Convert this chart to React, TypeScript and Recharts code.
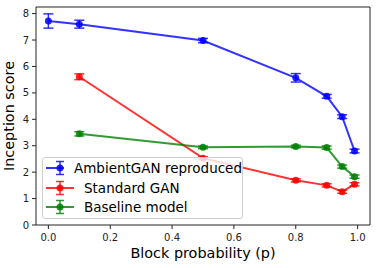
import React from 'react';
import { LineChart, Line, XAxis, YAxis, ErrorBar, ReferenceLine } from 'recharts';

const probAmbient = [0, 0.1, 0.5, 0.8, 0.9, 0.95, 0.99];
const scoreAmbient = [7.72, 7.6, 6.98, 5.57, 4.87, 4.1, 2.8];
const errAmbient = [0.27, 0.15, 0.08, 0.16, 0.07, 0.07, 0.07];

const probOther = [0.1, 0.5, 0.8, 0.9, 0.95, 0.99];
const scoreStandard = [5.61, 2.53, 1.69, 1.5, 1.26, 1.54];
const errStandard = [0.11, 0.05, 0.06, 0.06, 0.06, 0.06];
const scoreBaseline = [3.45, 2.94, 2.97, 2.93, 2.21, 1.83];
const errBaseline = [0.08, 0.05, 0.05, 0.06, 0.06, 0.06];

const xTicks = [0, 0.2, 0.4, 0.6, 0.8, 1.0];
const yTicks = [0, 1, 2, 3, 4, 5, 6, 7, 8];
const xDomain = [-0.04, 1.04];
const yDomain = [0, 8.25];

const seriesNames = ['AmbientGAN reproduced', 'Standard GAN', 'Baseline model'];
const seriesColors = ['#0000ff', '#ff0000', '#008000'];

const build = (xs: number[], ys: number[], es: number[]) =>
  xs.map((p, i) => ({ p, score: ys[i], err: es[i] }));

const ambientData = build(probAmbient, scoreAmbient, errAmbient);
const standardData = build(probOther, scoreStandard, errStandard);
const baselineData = build(probOther, scoreBaseline, errBaseline);
const allData = [ambientData, standardData, baselineData];

const FONT = 'DejaVu Sans, sans-serif';
const AXIS = '#222';

const YTitle = (props: any) => {
  const vb = props.viewBox || { x: 0, y: 0, width: 0, height: 0 };
  const cx = vb.x + 9;
  const cy = vb.y + vb.height / 2;
  return (
    <text
      x={cx}
      y={cy}
      transform={`rotate(-90 ${cx} ${cy})`}
      textAnchor="middle"
      dominantBaseline="central"
      fontSize={14.4}
      fill="#000"
      fontFamily={FONT}
    >
      Inception score
    </text>
  );
};

const XTitle = (props: any) => {
  const vb = props.viewBox || { x: 0, y: 0, width: 0, height: 0 };
  return (
    <text
      x={vb.x + vb.width / 2}
      y={vb.y + 27.5}
      textAnchor="middle"
      dominantBaseline="central"
      fontSize={14.4}
      fill="#000"
      fontFamily={FONT}
    >
      Block probability (p)
    </text>
  );
};

const LegendIcon = ({ color }: { color: string }) => (
  <svg width={28} height={16} style={{ display: 'block' }}>
    <line x1={0} y1={8} x2={28} y2={8} stroke={color} strokeOpacity={0.8} strokeWidth={2} />
    <line x1={14} y1={1.5} x2={14} y2={14.5} stroke={color} strokeOpacity={0.8} strokeWidth={1.5} />
    <line x1={10} y1={1.5} x2={18} y2={1.5} stroke={color} strokeOpacity={0.8} strokeWidth={1.5} />
    <line x1={10} y1={14.5} x2={18} y2={14.5} stroke={color} strokeOpacity={0.8} strokeWidth={1.5} />
    <circle cx={14} cy={8} r={3.5} fill={color} fillOpacity={0.85} />
  </svg>
);

const LegendBox = () => (
  <div
    style={{
      position: 'absolute',
      left: 42,
      top: 157,
      width: 201,
      height: 62,
      border: '1px solid #d0d0d0',
      borderRadius: 3,
      background: 'rgba(255,255,255,0.8)',
      fontFamily: FONT,
      fontSize: 13.5,
      color: '#000',
      paddingTop: 0,
      boxSizing: 'border-box',
    }}
  >
    {seriesNames.map((n, i) => (
      <div
        key={n}
        style={{ display: 'flex', alignItems: 'center', height: 19.7, paddingLeft: 3 }}
      >
        <LegendIcon color={seriesColors[i]} />
        <span style={{ marginLeft: 10, whiteSpace: 'nowrap', lineHeight: '16px' }}>{n}</span>
      </div>
    ))}
  </div>
);

export default function App() {
  return (
    <div style={{ position: 'absolute', left: 0, top: 0, width: 379, height: 268, fontFamily: FONT, background: '#fff' }}>
      <LineChart width={379} height={268} margin={{ top: 7, right: 9, left: 0, bottom: 0 }}>
        <XAxis
          xAxisId={0}
          dataKey="p"
          type="number"
          domain={xDomain}
          allowDataOverflow
          ticks={xTicks}
          tickFormatter={(v: number) => v.toFixed(1)}
          height={43}
          tickSize={4}
          tickMargin={5}
          stroke={AXIS}
          tick={{ fill: '#222', fontSize: 10, fontFamily: FONT }}
          label={<XTitle />}
        />
        <YAxis
          yAxisId={0}
          type="number"
          domain={yDomain}
          allowDataOverflow
          ticks={yTicks}
          width={36}
          tickSize={4}
          tickMargin={3}
          stroke={AXIS}
          tick={{ fill: '#222', fontSize: 10, fontFamily: FONT }}
          label={<YTitle />}
        />
        <ReferenceLine xAxisId={0} yAxisId={0} y={yDomain[1]} stroke={AXIS} ifOverflow="visible" />
        <ReferenceLine xAxisId={0} yAxisId={0} x={xDomain[1]} stroke={AXIS} ifOverflow="visible" />
        {allData.map((d, i) => (
          <Line
            key={seriesNames[i]}
            name={seriesNames[i]}
            data={d}
            dataKey="score"
            xAxisId={0}
            yAxisId={0}
            stroke={seriesColors[i]}
            strokeOpacity={0.8}
            strokeWidth={2}
            dot={{ r: 3.5, fill: seriesColors[i], fillOpacity: 0.85, stroke: 'none' }}
            activeDot={false}
            isAnimationActive={false}
          >
            <ErrorBar
              dataKey="err"
              direction="y"
              width={5}
              stroke={seriesColors[i]}
              strokeOpacity={0.8}
              strokeWidth={1.5}
              isAnimationActive={false}
            />
          </Line>
        ))}
      </LineChart>
      <LegendBox />
    </div>
  );
}
